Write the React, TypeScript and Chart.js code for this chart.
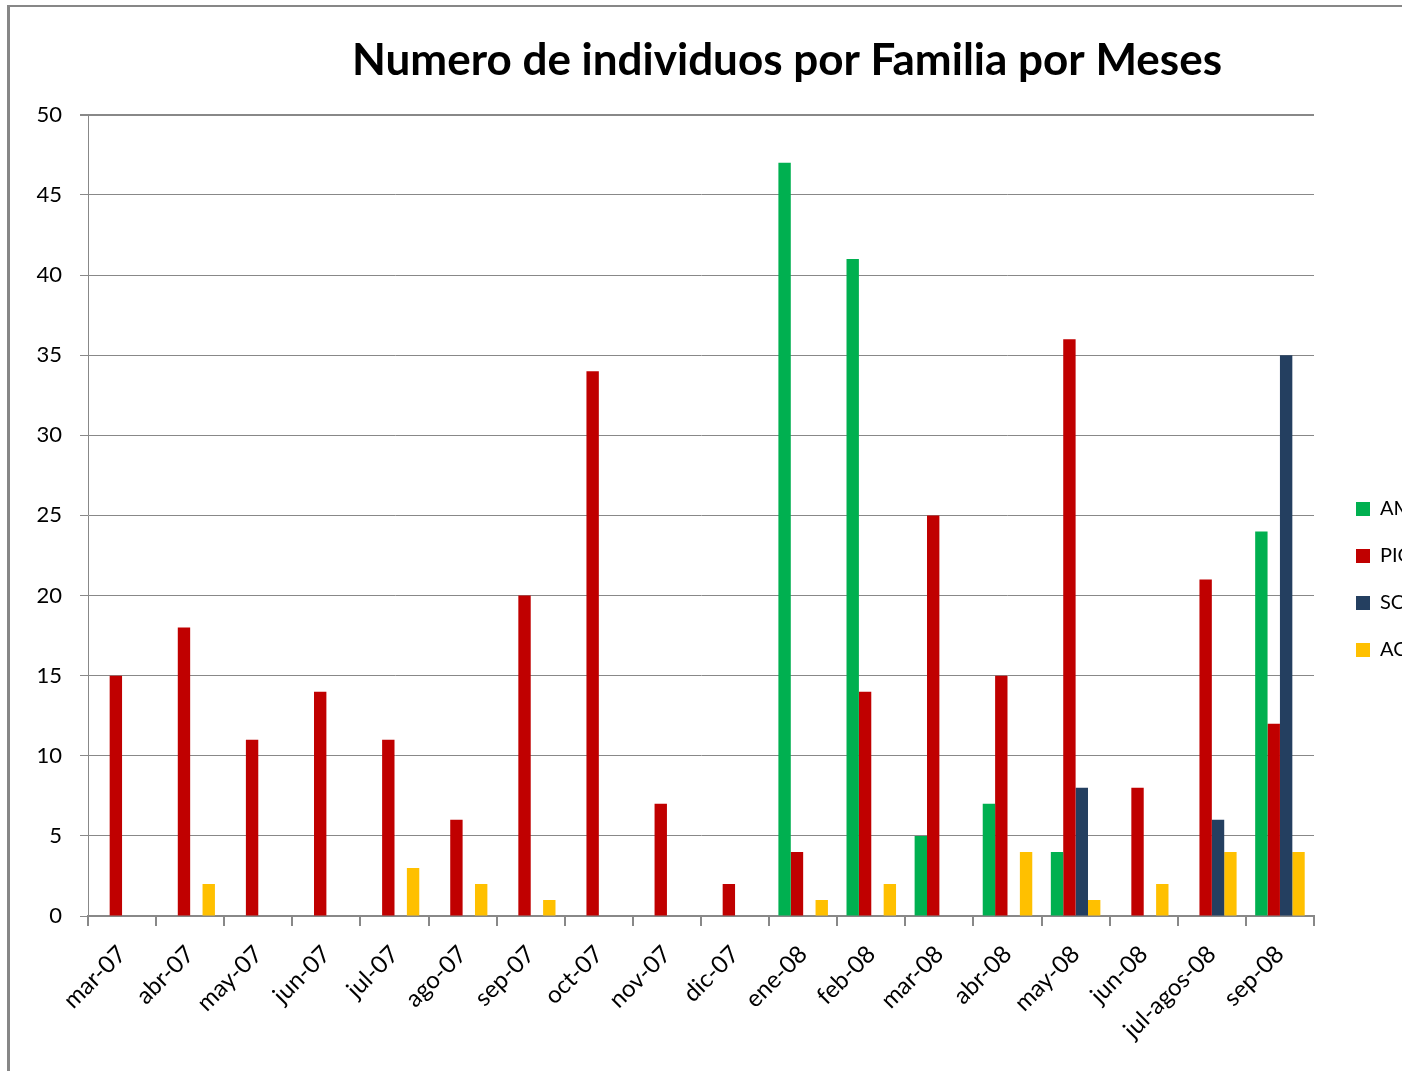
import { useEffect, useRef } from "react";
import { Chart, registerables } from "chart.js";

Chart.register(...registerables);

const categories = [
  "mar-07", "abr-07", "may-07", "jun-07", "jul-07", "ago-07", "sep-07", "oct-07", "nov-07",
  "dic-07", "ene-08", "feb-08", "mar-08", "abr-08", "may-08", "jun-08", "jul-agos-08", "sep-08",
];
const seriesNames = ["AMPULLARIIDAE", "PICIDAE", "SCARABAEIDAE", "ACRIDIDAE"];
const amValues = [0, 0, 0, 0, 0, 0, 0, 0, 0, 0, 47, 41, 5, 7, 4, 0, 0, 24];
const piValues = [15, 18, 11, 14, 11, 6, 20, 34, 7, 2, 4, 14, 25, 15, 36, 8, 21, 12];
const scValues = [0, 0, 0, 0, 0, 0, 0, 0, 0, 0, 0, 0, 0, 0, 8, 0, 6, 35];
const acValues = [0, 2, 0, 0, 3, 2, 1, 0, 0, 0, 1, 2, 0, 4, 1, 2, 4, 4];
const seriesColors = ["#00b050", "#c00000", "#243f60", "#ffc000"];
const yMin = 0;
const yMax = 50;
const yStep = 5;
const titleText = "Numero de individuos por Familia por Meses";

const FONT = "Lato";
const CANVAS_W = 1554;
const CANVAS_H = 1145;
const LEGEND_W = 235;

const legendWidthPlugin = {
  id: "legendWidth",
  beforeLayout(chart: any) {
    const lg = chart.legend;
    if (lg && !lg.__patched) {
      const orig = lg.fit.bind(lg);
      lg.fit = function () {
        orig();
        this.width = LEGEND_W;
      };
      lg.__patched = true;
    }
  },
};

export default function App() {
  const ref = useRef<HTMLCanvasElement | null>(null);

  useEffect(() => {
    document.body.style.overflow = "hidden";
    const canvas = ref.current;
    if (!canvas) return;
    const values = [amValues, piValues, scValues, acValues];
    const chart = new Chart(canvas, {
      type: "bar",
      data: {
        labels: categories,
        datasets: seriesNames.map((name, i) => ({
          label: name,
          data: values[i],
          backgroundColor: seriesColors[i],
          borderWidth: 0,
          categoryPercentage: 4 / 5.5,
          barPercentage: 1,
          yAxisID: "y",
        })),
      },
      plugins: [legendWidthPlugin],
      options: {
        responsive: false,
        animation: false,
        devicePixelRatio: 1,
        layout: { padding: 0 },
        plugins: {
          tooltip: { enabled: false },
          title: {
            display: true,
            text: titleText,
            color: "#000",
            font: { family: FONT, size: 44, weight: "bold" },
            padding: { top: 27, bottom: 28 },
          },
          legend: {
            position: "right",
            align: "center",
            labels: {
              color: "#000",
              font: { family: FONT, size: 20 },
              boxWidth: 14,
              boxHeight: 14,
              padding: 27,
            },
          },
        },
        scales: {
          x: {
            grid: {
              display: true,
              drawOnChartArea: false,
              drawTicks: true,
              tickLength: 10,
              color: "#888",
              lineWidth: 2,
              offset: true,
            },
            border: { display: true, color: "#888", width: 2 },
            ticks: {
              color: "#000",
              font: { family: FONT, size: 24 },
              minRotation: 45,
              maxRotation: 45,
              padding: 14,
              autoSkip: false,
            },
            afterFit: (scale: any) => {
              scale.height = 236;
            },
          },
          y: {
            min: yMin,
            max: yMax,
            position: "left",
            grid: {
              color: "#888",
              lineWidth: (ctx: any) => (ctx.tick && ctx.tick.value === yMax ? 2 : 1),
              tickLength: 8,
            },
            border: { display: true, color: "#888", width: 1 },
            ticks: {
              stepSize: yStep,
              color: "#000",
              font: { family: FONT, size: 22 },
              padding: 18,
            },
            afterFit: (scale: any) => {
              scale.width = 78;
            },
          },
          gap: {
            type: "linear",
            position: "right",
            display: true,
            grid: { display: false, drawTicks: false },
            border: { display: false },
            ticks: { display: false },
            afterFit: (scale: any) => {
              scale.width = 15;
            },
          },
        },
      },
    } as any);
    return () => chart.destroy();
  }, []);

  return (
    <div
      style={{
        position: "fixed",
        left: 7,
        top: 5,
        width: CANVAS_W + 20,
        height: CANVAS_H + 20,
        borderLeft: "3px solid #878787",
        borderTop: "2px solid #878787",
        background: "#fff",
      }}
    >
      <canvas
        ref={ref}
        width={CANVAS_W}
        height={CANVAS_H}
        style={{ display: "block", width: CANVAS_W, height: CANVAS_H }}
      />
    </div>
  );
}
